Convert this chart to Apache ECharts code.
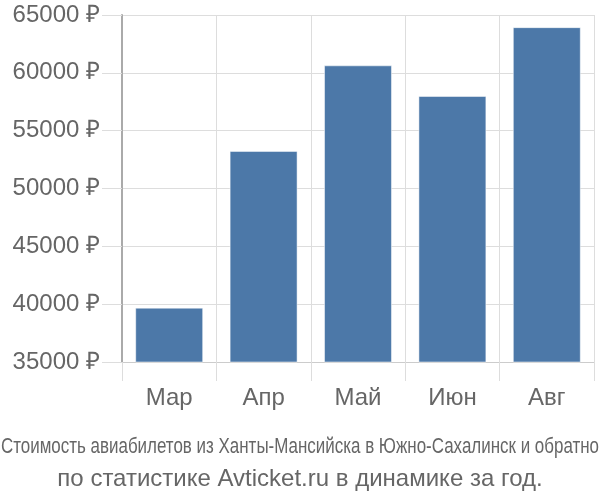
<!DOCTYPE html>
<html>
<head>
<meta charset="utf-8">
<script src="https://cdn.jsdelivr.net/npm/echarts@6/dist/echarts.min.js"></script>
<style>html,body{margin:0;padding:0;background:#fff}#c{width:600px;height:500px}</style>
</head>
<body>
<div id="c"></div>
<script>
const categories = ['Мар', 'Апр', 'Май', 'Июн', 'Авг'];
const prices = [39700, 53250, 60650, 58000, 63950];
const yTicks = [35000, 40000, 45000, 50000, 55000, 60000, 65000];
const titleLine1 = 'Стоимость авиабилетов из Ханты-Мансийска в Южно-Сахалинск и обратно';
const titleLine2 = 'по статистике Avticket.ru в динамике за год.';

const FONT = 'Liberation Sans, Arial, sans-serif';
const line1Font = '22px Liberation Sans';
const cv = document.createElement('canvas').getContext('2d');
cv.font = line1Font;
const line1Width = cv.measureText(titleLine1).width;
const line1Scale = Math.min(1, 598 / line1Width);

const chart = echarts.init(document.getElementById('c'), null, {renderer: 'canvas'});
chart.setOption({
  animation: false,
  backgroundColor: '#fff',
  title: [
    {text: titleLine2, left: 'center', top: 462,
     textStyle: {fontFamily: FONT, fontSize: 24, fontWeight: 'normal', color: '#666'}}
  ],
  graphic: [{
    type: 'text', x: 300, y: 447, scaleX: line1Scale, silent: true,
    style: {text: titleLine1, font: line1Font, fill: '#666', align: 'center', verticalAlign: 'middle'}
  }],
  grid: {left: 122, right: 6, top: 15, bottom: 138, containLabel: false},
  xAxis: {
    type: 'category', data: categories, boundaryGap: true,
    axisLine: {show: true, lineStyle: {color: '#ccc', width: 1}},
    axisTick: {show: true, length: 19, lineStyle: {color: '#ddd'}},
    splitLine: {show: true, lineStyle: {color: '#ddd'}},
    axisLabel: {color: '#666', fontSize: 24, fontFamily: FONT, margin: 24}
  },
  yAxis: {
    type: 'value', min: yTicks[0], max: yTicks[yTicks.length - 1], interval: 5000,
    axisLine: {show: true, lineStyle: {color: '#aaa', width: 2}},
    axisTick: {show: true, length: 20, lineStyle: {color: '#ddd'}},
    splitLine: {show: true, lineStyle: {color: '#ddd'}},
    axisLabel: {color: '#666', fontSize: 24, fontFamily: FONT, margin: 22,
      formatter: v => v + ' ₽'}
  },
  series: [{
    type: 'bar', data: prices, barCategoryGap: '28%',
    itemStyle: {color: '#4c78a8', borderColor: 'rgba(255,255,255,0.5)', borderWidth: 1}
  }]
});
</script>
</body>
</html>
